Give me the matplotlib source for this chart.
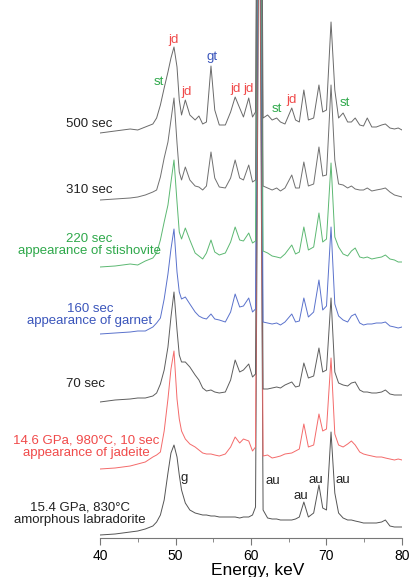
import matplotlib
matplotlib.use("Agg")
import matplotlib.pyplot as plt
from matplotlib.ticker import MultipleLocator

plt.rcParams['font.family'] = ['Liberation Sans', 'DejaVu Sans']

# energy grid (keV), shared by all spectra
energy = [40, 42, 44, 45, 46, 47, 47.5,
          48.0, 48.5, 49.0, 49.4, 49.8,
          50.2, 50.5, 50.8, 51.3, 51.9,
          52.6, 53.1, 53.6, 54.1, 54.7,
          55.2, 55.8, 56.6, 57.3, 57.9,
          58.5, 59.0, 59.7, 60.2, 60.6,
          61.1, 61.6, 62.2, 62.8, 63.4,
          63.9, 64.5, 65.4, 65.9, 66.4,
          67.0, 67.6, 68.3, 69.0, 69.5,
          70.0, 70.6, 71.1, 71.6, 72.2,
          72.8, 73.3, 73.8, 74.4, 74.9,
          75.4, 76.0, 76.6, 77.3, 77.8,
          78.4, 79.0, 79.5, 80]

# intensities (arb. units), bottom spectrum first
amorphous = [0, 1, 3, 4, 6, 9, 13,
             20, 35, 62, 82, 90,
             78, 60, 45, 32, 25,
             22, 21, 20, 20, 19,
             19, 18, 18, 18, 18,
             17, 18, 18, 20, 28,
             700, 25, 17, 16, 16,
             15, 15, 15, 16, 18,
             33, 18, 22, 50, 27,
             25, 103, 42, 22, 17,
             15, 15, 14, 13, 12,
             12, 12, 12, 13, 15,
             9, 8, 8, 8]

sec10 = [0, 1, 3, 5, 7, 12, 14,
         17, 38, 70, 100, 118,
         70, 50, 38, 30, 25,
         22, 19, 16, 15, 15,
         14, 13, 15, 22, 32,
         26, 30, 28, 18, 22,
         700, 13, 14, 11, 12,
         13, 15, 16, 18, 20,
         45, 22, 24, 55, 38,
         40, 111, 35, 24, 22,
         25, 28, 24, 17, 15,
         14, 13, 12, 12, 11,
         10, 9, 10, 9]

sec70 = [0, 2, 3, 4, 4, 6, 9,
         18, 32, 55, 85, 110,
         72, 47, 40, 40, 35,
         27, 22, 14, 11, 12,
         10, 9, 10, 22, 42,
         30, 32, 38, 25, 28,
         700, 13, 13, 14, 15,
         14, 17, 20, 15, 16,
         39, 24, 26, 54, 30,
         32, 104, 30, 19, 17,
         16, 19, 20, 12, 10,
         10, 9, 9, 10, 12,
         8, 7, 7, 7]

sec160 = [0, 1, 2, 3, 3, 7, 11,
          16, 35, 60, 85, 105,
          62, 42, 35, 37, 30,
          22, 18, 16, 15, 20,
          15, 14, 12, 22, 40,
          27, 28, 36, 22, 25,
          700, 12, 11, 10, 11,
          9, 12, 20, 12, 13,
          36, 17, 22, 54, 24,
          28, 107, 30, 18, 14,
          12, 18, 20, 11, 9,
          10, 10, 11, 11, 12,
          8, 7, 6, 7]

sec220 = [0, 1, 3, 2, 6, 9, 14,
          27, 45, 62, 85, 107,
          65, 35, 28, 39, 27,
          14, 11, 8, 14, 27,
          15, 12, 14, 25, 40,
          27, 26, 34, 24, 26,
          700, 16, 14, 11, 10,
          9, 13, 22, 13, 15,
          40, 17, 20, 54, 25,
          28, 104, 30, 20, 13,
          11, 16, 19, 10, 9,
          10, 8, 9, 10, 12,
          8, 7, 5, 5]

sec310 = [0, 1, 2, 3, 5, 8, 10,
          23, 42, 58, 80, 102,
          57, 28, 20, 33, 20,
          14, 13, 10, 14, 48,
          22, 13, 12, 22, 40,
          22, 20, 35, 18, 20,
          700, 14, 12, 10, 12,
          9, 12, 25, 12, 12,
          38, 14, 16, 53, 24,
          25, 115, 40, 16, 15,
          12, 14, 11, 10, 10,
          12, 9, 10, 11, 12,
          8, 5, 4, 3]

sec500 = [0, 2, 4, 3, 6, 9, 15,
          28, 45, 61, 75, 86,
          66, 33, 18, 33, 18,
          13, 17, 9, 11, 67,
          23, 8, 8, 21, 36,
          25, 16, 35, 16, 21,
          700, 15, 18, 13, 15,
          11, 9, 25, 13, 11,
          43, 13, 15, 48, 21,
          23, 111, 43, 15, 20,
          11, 11, 15, 8, 7,
          15, 6, 6, 8, 9,
          5, 4, 5, 3]

spectra = [amorphous, sec10, sec70, sec160, sec220, sec310, sec500]
offsets = [0, 66, 133, 201, 268, 335, 402]
line_colors = ['#555555', '#f46a6a', '#5e5e5e', '#5a72cc', '#5cb872', '#707070', '#6a6a6a']

labels = [
    ("15.4 GPa, 830°C\namorphous labradorite", '#222222', 80, 21, 'center'),
    ("14.6 GPa, 980°C, 10 sec\nappearance of jadeite", '#f04a4a', 86, 88, 'center'),
    ("70 sec", '#222222', 66, 151, 'left'),
    ("160 sec\nappearance of garnet", '#3a55bb', 90, 220, 'center'),
    ("220 sec\nappearance of stishovite", '#2ea84a', 89, 290, 'center'),
    ("310 sec", '#222222', 66, 345, 'left'),
    ("500 sec", '#222222', 66, 411, 'left'),
]

# phase marks: text, colour, energy, height
marks = [
    ("st", '#2ea84a', 47.8, 453), ("jd", '#f04a4a', 49.8, 495),
    ("jd", '#f04a4a', 51.4, 443), ("gt", '#3a55bb', 54.8, 478),
    ("jd", '#f04a4a', 57.9, 446), ("jd", '#f04a4a', 59.7, 446),
    ("st", '#2ea84a', 63.4, 426), ("jd", '#f04a4a', 65.4, 435),
    ("st", '#2ea84a', 72.4, 432),
    ("g", '#222222', 51.1, 57), ("au", '#222222', 62.9, 54),
    ("au", '#222222', 66.6, 39), ("au", '#222222', 68.6, 55),
    ("au", '#222222', 72.2, 55),
]

W, H = 414, 577
fig = plt.figure(figsize=(W / 100, H / 100), dpi=100)
ax = fig.add_axes([100 / W, (H - 538) / H, 302 / W, 538 / H])

for spec, off, col in zip(spectra, offsets, line_colors):
    ax.plot(energy, [v + off for v in spec], color=col, lw=0.7)

ax.set_xlim(40, 80)
ax.set_ylim(-3, 535)

for s in ['left', 'top', 'right']:
    ax.spines[s].set_visible(False)
ax.spines['bottom'].set_color('#777777')
ax.set_yticks([])
ax.xaxis.set_major_locator(MultipleLocator(10))
ax.xaxis.set_minor_locator(MultipleLocator(5))
ax.tick_params(axis='x', which='major', length=5, color='#777777', labelsize=10, pad=3)
ax.tick_params(axis='x', which='minor', length=3, color='#777777')
ax.set_xlabel("Energy, keV", fontsize=12.5)
ax.xaxis.set_label_coords(0.523, -0.046)

px_per_kev = 302 / 40
for txt, col, px, y, ha in labels:
    x = 40 + (px - 100) / px_per_kev
    ax.text(x, y, txt, color=col, fontsize=9.5, ha=ha, va='center',
            multialignment='center', linespacing=1.05, clip_on=False)

for txt, col, x, y in marks:
    ax.text(x, y, txt, color=col, fontsize=9.5, ha='center', va='center')

fig.savefig("out.png", dpi=100)
